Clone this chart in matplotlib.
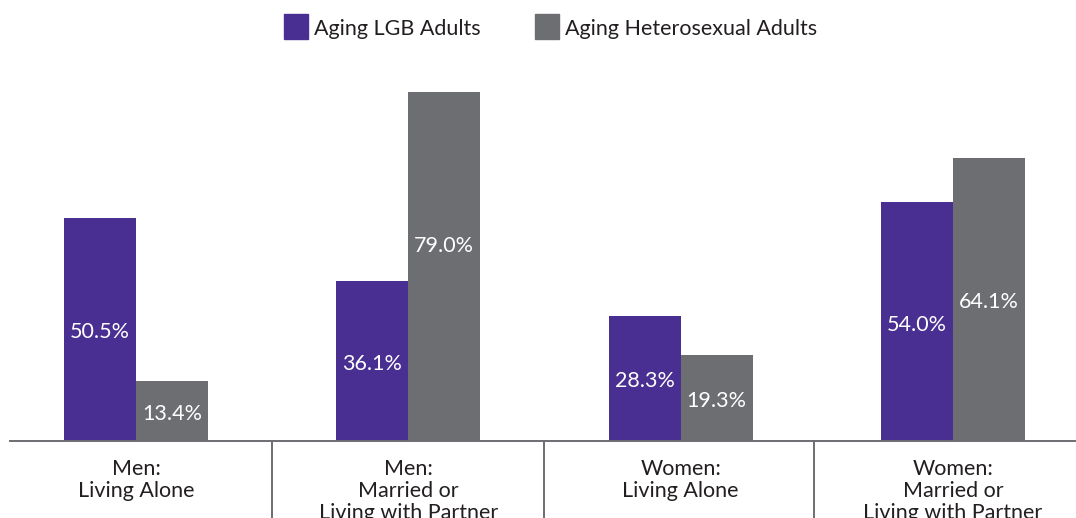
import matplotlib
matplotlib.use("Agg")
import matplotlib.pyplot as plt
from matplotlib.patches import Rectangle
import matplotlib.transforms as mtransforms

categories = ["Men:\nLiving Alone", "Men:\nMarried or\nLiving with Partner",
              "Women:\nLiving Alone", "Women:\nMarried or\nLiving with Partner"]
series_names = ["Aging LGB Adults", "Aging Heterosexual Adults"]
lgb = [50.5, 36.1, 28.3, 54.0]
hetero = [13.4, 79.0, 19.3, 64.1]

PURPLE = "#482F91"
GRAY = "#6D6E71"
TEXT = "#231F20"
LINE = "#6D6E71"

plt.rcParams['font.family'] = ['Lato', 'DejaVu Sans']

W, H = 1076, 518
fig = plt.figure(figsize=(W / 100, H / 100), dpi=100)
base_px = 440.5
top_px = 50
ax = fig.add_axes([0, (H - base_px) / H, 1, (base_px - top_px) / H])

ppu = 272.33
x0 = -136 / ppu
ax.set_xlim(x0, x0 + W / ppu)
ax.set_ylim(0, (base_px - top_px) / 4.41)

bw = 72 / ppu
xs = list(range(len(categories)))
ax.bar([x - bw / 2 for x in xs], lgb, width=bw, color=PURPLE, zorder=2)
ax.bar([x + bw / 2 for x in xs], hetero, width=bw, color=GRAY, zorder=2)

def label_y(v):
    return 44.0 if v > 70 else v / 2 - 0.7

FS = 15.5
for x, v in zip(xs, lgb):
    ax.text(x - bw / 2, label_y(v), f"{v:.1f}%", ha="center", va="center",
            color="white", fontsize=FS)
for x, v in zip(xs, hetero):
    ax.text(x + bw / 2, label_y(v), f"{v:.1f}%", ha="center", va="center",
            color="white", fontsize=FS)

for s in ax.spines.values():
    s.set_visible(False)
ax.set_xticks([])
ax.set_yticks([])

# baseline
ax.plot([10 / ppu + x0, x0 + W / ppu], [0, 0], color=LINE, lw=1.4,
        clip_on=False, zorder=3)
trans = mtransforms.blended_transform_factory(ax.transData, ax.transAxes)
for sx in [0.5, 1.5, 2.49]:
    ax.plot([sx, sx], [0, -0.3], color=LINE, lw=1.4, transform=trans, clip_on=False)

# category labels
for x, c in zip(xs, categories):
    ax.text(x, -18.5 / (base_px - top_px), c, transform=trans, ha="center", va="top",
            color=TEXT, fontsize=FS, linespacing=1.12)

# legend
for (lx, tx), name, col in zip([(284, 314), (535, 565)], series_names, [PURPLE, GRAY]):
    fig.add_artist(Rectangle((lx / W, 1 - 38.5 / H), 23.5 / W, 24.5 / H,
                             transform=fig.transFigure, color=col))
    fig.text(tx / W, 1 - 29.5 / H, name, ha="left", va="center", color=TEXT, fontsize=FS)

fig.savefig("out.png", dpi=100)
